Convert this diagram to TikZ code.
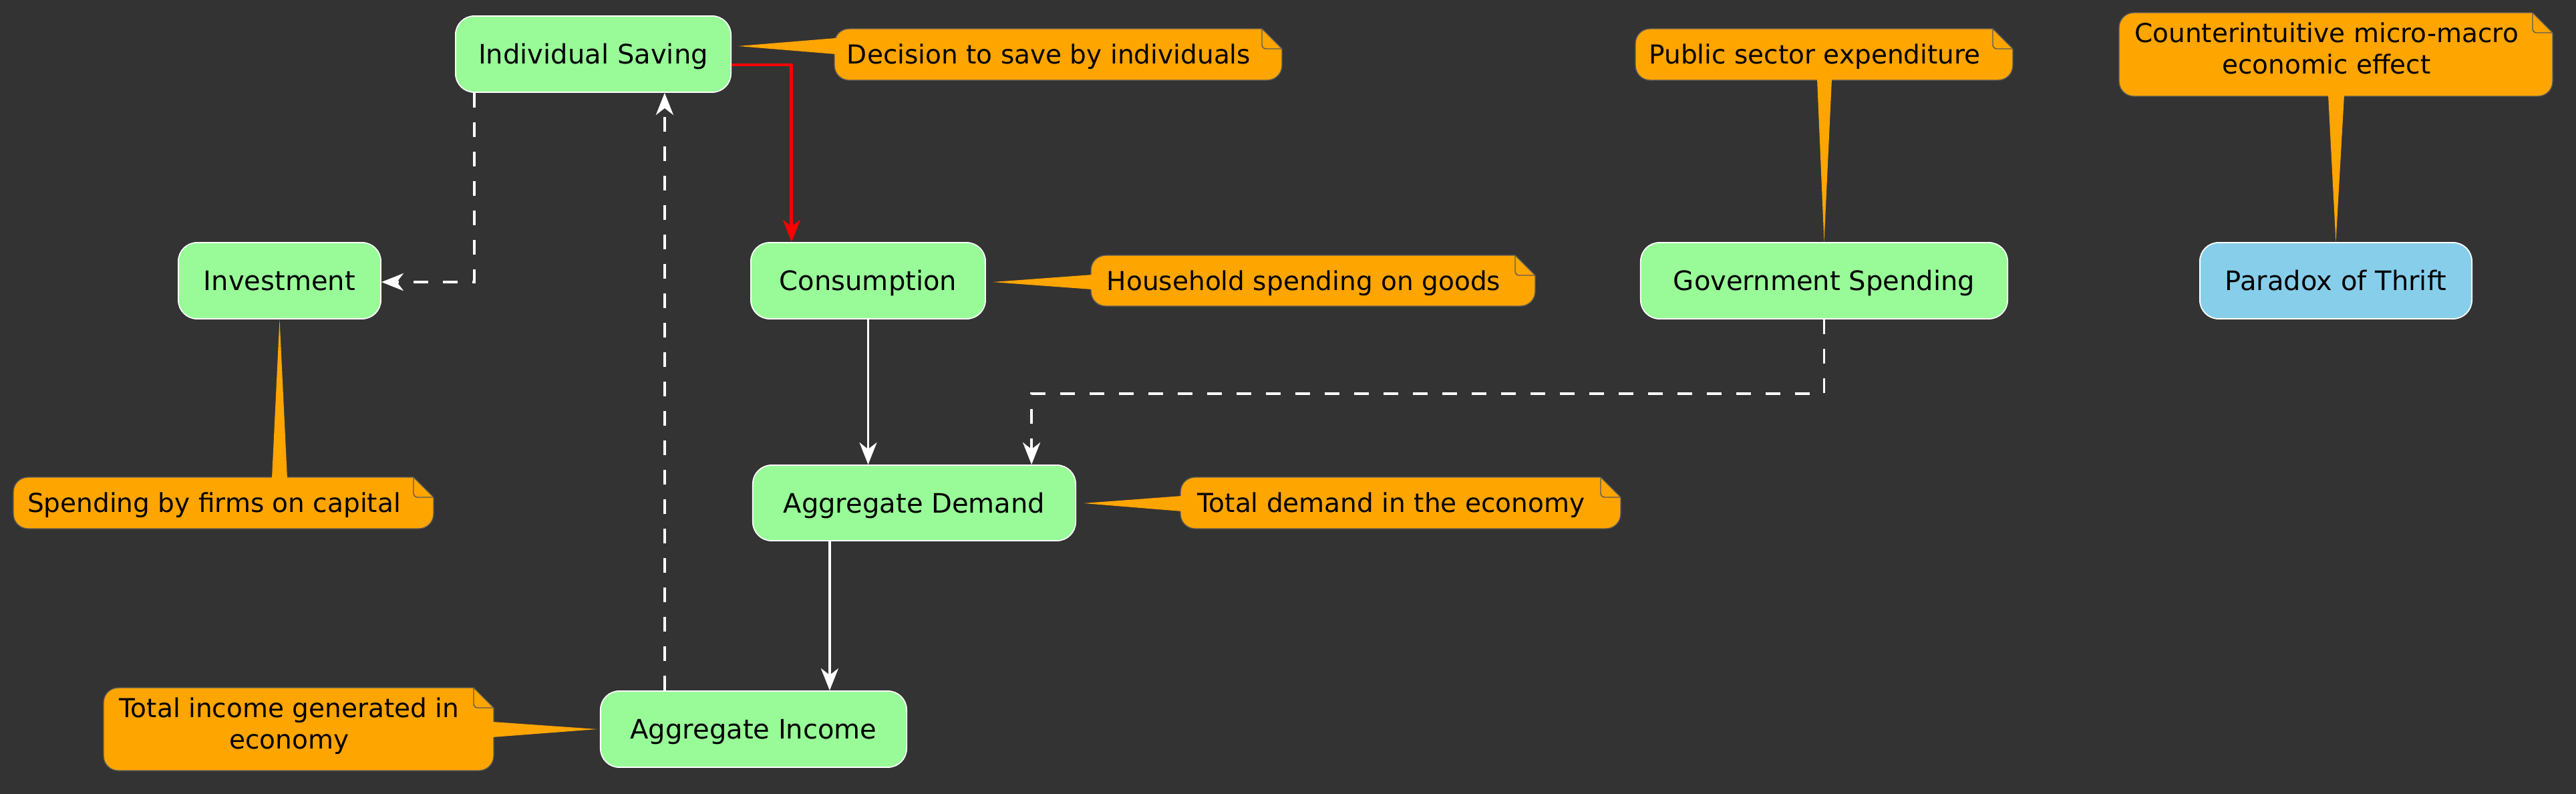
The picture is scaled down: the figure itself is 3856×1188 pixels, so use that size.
\documentclass[tikz,border=0pt]{standalone}
\usepackage{fontspec}
\setmainfont{DejaVu Sans}
\usetikzlibrary{arrows.meta,calc}
\definecolor{bgc}{HTML}{333333}
\definecolor{boxg}{HTML}{98FB98}
\definecolor{boxb}{HTML}{87CEEB}
\definecolor{notec}{HTML}{FFA500}
\definecolor{noteb}{HTML}{5A5A5A}
\newcommand\notebg[4]{%
  \path[notebgstyle] (#1+22,#4) -- (#3-22,#4) arc[start angle=-90,end angle=0,radius=0.22cm]
    -- (#3,#2-30) -- (#3-30,#2) -- (#1+22,#2) arc[start angle=90,end angle=180,radius=0.22cm]
    -- (#1,#4+22) arc[start angle=180,end angle=270,radius=0.22cm] -- cycle;
  \draw[foldstyle] (#3-30,#2) -- (#3-30,#2-30) -- (#3,#2-30);
}
\tikzset{
  box/.style={draw=white, line width=0.5pt, rounded corners=0.28cm, fill=boxg,
    minimum height=1.14cm, inner sep=0pt, text height=0.29cm, text depth=0pt,
    font=\fontsize{11.4}{13.7}\selectfont, text=black},
  notebgstyle/.style={fill=notec, draw=noteb, line width=0.4pt},
  foldstyle/.style={draw=noteb, line width=0.4pt, rounded corners=0.06cm},
  notetext/.style={inner sep=0pt, text height=0.28cm, text depth=0pt,
    font=\fontsize{11.1}{13.4}\selectfont, text=black},
  notetexttwo/.style={inner sep=0pt, font=\fontsize{11.1}{13.4}\selectfont, text=black},
  ptr/.style={fill=notec},
  wline/.style={draw=white, line width=1.1pt, -{Stealth[length=0.33cm,width=0.26cm,inset=0.1cm]}},
  dline/.style={wline, dash pattern=on 0.22cm off 0.22cm},
  rline/.style={wline, draw=red, line width=1.4pt},
}
\begin{document}
\begin{tikzpicture}[x=0.01cm, y=0.01cm]
\useasboundingbox (0,0) rectangle (3856,-1188);
\fill[bgc] (0,0) rectangle (3856,-1188);

% boxes
\node[box, minimum width=4.12cm] (IS) at (888,-81) {Individual Saving};
\node[box, minimum width=3.03cm] (Inv) at (418.5,-420) {Investment};
\node[box, minimum width=3.51cm] (Cons) at (1299.5,-420) {Consumption};
\node[box, minimum width=5.49cm] (Gov) at (2730.5,-420) {Government Spending};
\node[box, minimum width=4.07cm, fill=boxb] (Para) at (3496.5,-420) {Paradox of Thrift};
\node[box, minimum width=4.83cm, minimum height=1.13cm] (AD) at (1368.5,-752.5) {Aggregate Demand};
\node[box, minimum width=4.58cm] (AI) at (1128,-1091) {Aggregate Income};

% notes backgrounds
\notebg{1249}{-43}{1919}{-120}
\notebg{20}{-714}{649}{-791}
\notebg{1633}{-382}{2298}{-458}
\notebg{2448}{-43}{3013}{-120}
\notebg{3172}{-19}{3821}{-144}
\notebg{1767}{-714}{2426}{-791}
\notebg{155}{-1029}{739}{-1153}

% note texts
\node[notetext] (n1) at (1570,-81.5) {Decision to save by individuals};
\node[notetext] (n2) at (320.5,-752.5) {Spending by firms on capital};
\node[notetext] (n3) at (1951.5,-420) {Household spending on goods};
\node[notetext] (n4) at (2716.5,-81.5) {Public sector expenditure};
\node[notetexttwo] (n5) at (3482.5,-78) {\renewcommand\arraystretch{1}\begin{tabular}{@{}c@{}}Counterintuitive micro-macro\\economic effect\end{tabular}};
\node[notetext] (n6) at (2082.5,-752.5) {Total demand in the economy};
\node[notetexttwo] (n7) at (433,-1087.5) {\renewcommand\arraystretch{1}\begin{tabular}{@{}c@{}}Total income generated in\\economy\end{tabular}};

% callout pointers
\fill[ptr] ($(IS.east)+(10,12)$) -- (1251,-57) -- (1251,-81) -- cycle;
\fill[ptr] (Inv.south) -- (407,-716) -- (430,-716) -- cycle;
\fill[ptr] ($(Cons.east)+(10,-2)$) -- (1635,-411) -- (1635,-433) -- cycle;
\fill[ptr] (Gov.north) -- (2720,-118) -- (2742,-118) -- cycle;
\fill[ptr] (Para.north) -- (3485,-142) -- (3509,-142) -- cycle;
\fill[ptr] ($(AD.east)+(11,-0.5)$) -- (1769,-742) -- (1769,-765) -- cycle;
\fill[ptr] ($(AI.west)+(-4,0)$) -- (737,-1080) -- (737,-1103) -- cycle;

% connectors
\draw[rline] ([yshift=-0.16cm]IS.east) -| ([xshift=-1.145cm]Cons.north);
\draw[dline] ([xshift=-1.78cm]IS.south) |- ([yshift=-0.02cm]Inv.east);
\coordinate (aiup) at ([xshift=-1.33cm]AI.north);
\draw[dline] (aiup) -- (aiup |- IS.south);
\draw[wline] (Cons.south) -- (Cons.south |- AD.north);
\coordinate (adin) at ([xshift=1.755cm]AD.north);
\draw[dline] (Gov.south) -- ++(0,-111) -| (adin);
\coordinate (adout) at ([xshift=-1.265cm]AD.south);
\draw[wline] (adout) -- (adout |- AI.north);
\end{tikzpicture}
\end{document}
